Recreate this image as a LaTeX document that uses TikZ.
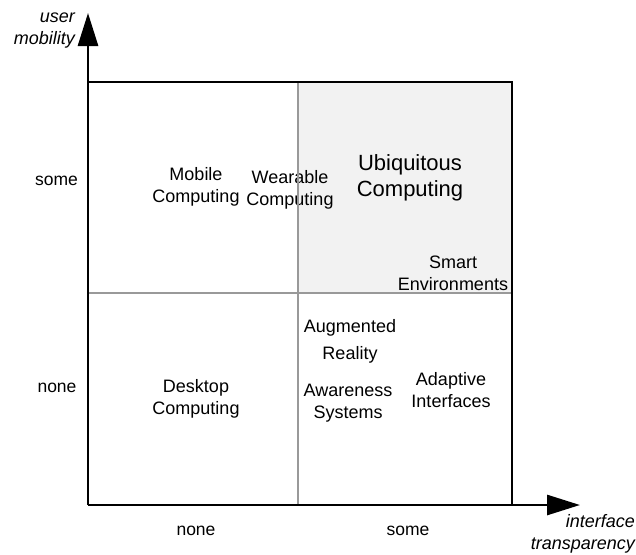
\documentclass[tikz,border=0pt]{standalone}
\usepackage{fontspec}
\setmainfont{Liberation Sans}
\usetikzlibrary{arrows.meta}
\definecolor{quadfill}{HTML}{F2F2F2}
\definecolor{divgray}{HTML}{999999}
\tikzset{
  lbl/.style={align=center, inner sep=0pt, font=\fontsize{18}{22}\selectfont},
  biglbl/.style={align=center, inner sep=0pt, font=\fontsize{22}{26}\selectfont},
  axlbl/.style={inner sep=0pt, font=\fontsize{17.5}{21}\selectfont},
  axname/.style={align=right, inner sep=0pt, font=\fontsize{18}{22}\selectfont\itshape},
  axisline/.style={line width=2.8pt, -{Triangle[length=33pt,width=20pt]}},
  boxline/.style={line width=2.8pt},
  divline/.style={line width=2.4pt, draw=divgray}
}
\begin{document}
\begin{tikzpicture}[x=1pt,y=-1pt]
\useasboundingbox (0,0) rectangle (636,554);
% coordinates
\coordinate (O) at (88,505);
\coordinate (ytip) at (88,13);
\coordinate (xtip) at (580,505);
\coordinate (TL) at (88,82);
\coordinate (TR) at (512,82);
\coordinate (BR) at (512,505);
\coordinate (MT) at (298,82);
\coordinate (MB) at (298,505);
\coordinate (ML) at (88,293);
\coordinate (MR) at (512,293);
% shaded quadrant
\fill[quadfill] (MT) rectangle (MR);
% labels
\node[lbl] (mob) at (196,187) {Mobile\\Computing};
\node[lbl] (wear) at (290,190) {Wearable\\Computing};
\node[biglbl] (ubi) at (410,178) {Ubiquitous\\Computing};
\node[lbl] (smart) at (453,273) {Smart\\Environments};
\node[lbl] (aug) at (350,328) {Augmented};
\node[lbl] (real) at (350,355) {Reality};
\node[lbl] (aware) at (348,403) {Awareness\\Systems};
\node[lbl] (adapt) at (451,390) {Adaptive\\Interfaces};
\node[lbl] (desk) at (196,399) {Desktop\\Computing};
% axis value labels
\node[axlbl] (ysome) at (56.5,181) {some};
\node[axlbl] (ynone) at (57,388) {none};
\node[axlbl] (xnone) at (196,531) {none};
\node[axlbl] (xsome) at (408,531) {some};
% axis names
\node[axname, anchor=north east] (ymob) at (75,13) {user\\mobility};
\node[axname, anchor=north east] (xtr) at (635,514) {interface\\transparency};
% dividers
\draw[divline] (MT) -- (MB);
\draw[divline] (ML) -- (MR);
% box
\draw[boxline] (TL) -- (TR) -- (BR);
% axes
\draw[axisline] (O) -- (ytip);
\draw[axisline] (O) -- (xtip);
\end{tikzpicture}
\end{document}
